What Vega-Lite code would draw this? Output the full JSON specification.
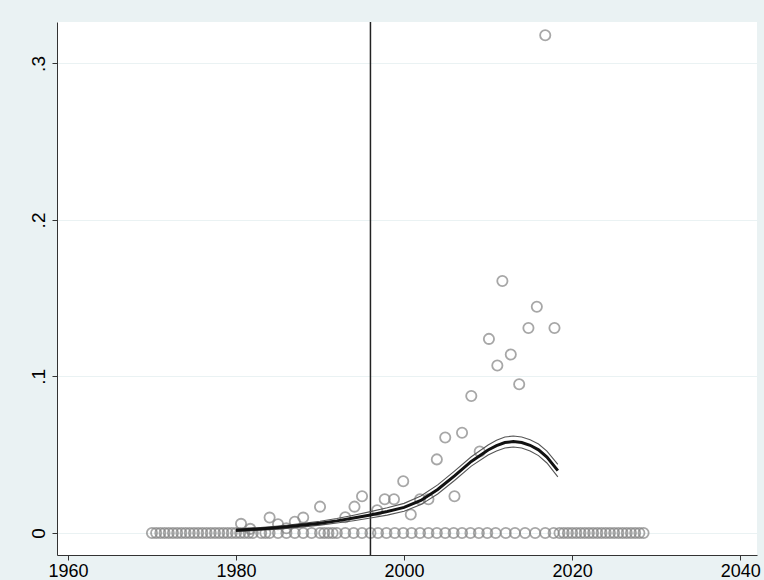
{
  "$schema": "https://vega.github.io/schema/vega-lite/v6.json",
  "autosize": {"type": "none"},
  "width": 700,
  "height": 533,
  "padding": {"left": 57, "top": 22, "right": 7, "bottom": 25},
  "background": "#eaf2f3",
  "config": {
    "view": {"fill": "white", "stroke": null},
    "font": "Liberation Sans",
    "axis": {
      "labelFont": "Liberation Sans",
      "labelFontSize": 18,
      "labelColor": "#000000",
      "domainColor": "#333333",
      "tickColor": "#333333",
      "tickSize": 5,
      "title": null
    }
  },
  "datasets": {
    "pts": [
      {"year": 1970, "share": 0}, {"year": 1970.5, "share": 0}, {"year": 1971, "share": 0}, {"year": 1971.5, "share": 0},
      {"year": 1972, "share": 0}, {"year": 1972.5, "share": 0}, {"year": 1973, "share": 0}, {"year": 1973.5, "share": 0},
      {"year": 1974, "share": 0}, {"year": 1974.5, "share": 0}, {"year": 1975, "share": 0}, {"year": 1975.5, "share": 0},
      {"year": 1976, "share": 0}, {"year": 1976.5, "share": 0}, {"year": 1977, "share": 0}, {"year": 1977.5, "share": 0},
      {"year": 1978, "share": 0}, {"year": 1978.5, "share": 0}, {"year": 1979, "share": 0}, {"year": 1979.5, "share": 0},
      {"year": 1980, "share": 0}, {"year": 1980.5, "share": 0}, {"year": 1981, "share": 0}, {"year": 1981.5, "share": 0},
      {"year": 1982, "share": 0}, {"year": 1983, "share": 0}, {"year": 1983.5, "share": 0}, {"year": 1984, "share": 0},
      {"year": 1985, "share": 0}, {"year": 1986, "share": 0}, {"year": 1987, "share": 0}, {"year": 1988, "share": 0},
      {"year": 1989, "share": 0}, {"year": 1990, "share": 0}, {"year": 1990.5, "share": 0}, {"year": 1991, "share": 0},
      {"year": 1991.5, "share": 0}, {"year": 1992, "share": 0}, {"year": 1993, "share": 0}, {"year": 1994, "share": 0},
      {"year": 1995, "share": 0}, {"year": 1996, "share": 0},
      {"year": 1996.9, "share": 0}, {"year": 1997.9, "share": 0}, {"year": 1998.9, "share": 0}, {"year": 1999.9, "share": 0},
      {"year": 2000.9, "share": 0}, {"year": 2001.9, "share": 0}, {"year": 2002.9, "share": 0}, {"year": 2003.9, "share": 0},
      {"year": 2004.9, "share": 0}, {"year": 2005.9, "share": 0}, {"year": 2006.9, "share": 0}, {"year": 2007.9, "share": 0},
      {"year": 2008.9, "share": 0}, {"year": 2009.9, "share": 0}, {"year": 2010.9, "share": 0},
      {"year": 2012.1, "share": 0}, {"year": 2013.2, "share": 0}, {"year": 2014.4, "share": 0}, {"year": 2015.6, "share": 0},
      {"year": 2016.8, "share": 0}, {"year": 2017.8, "share": 0},
      {"year": 2018.5, "share": 0}, {"year": 2019, "share": 0}, {"year": 2019.5, "share": 0}, {"year": 2020, "share": 0},
      {"year": 2020.5, "share": 0}, {"year": 2021, "share": 0}, {"year": 2021.5, "share": 0}, {"year": 2022, "share": 0},
      {"year": 2022.5, "share": 0}, {"year": 2023, "share": 0}, {"year": 2023.5, "share": 0}, {"year": 2024, "share": 0},
      {"year": 2024.5, "share": 0}, {"year": 2025, "share": 0}, {"year": 2025.5, "share": 0}, {"year": 2026, "share": 0},
      {"year": 2026.5, "share": 0}, {"year": 2027, "share": 0}, {"year": 2027.5, "share": 0}, {"year": 2028, "share": 0},
      {"year": 2028.5, "share": 0},
      {"year": 1980.6, "share": 0.0058}, {"year": 1981.7, "share": 0.0026}, {"year": 1984, "share": 0.0098},
      {"year": 1985, "share": 0.0055}, {"year": 1986, "share": 0.003}, {"year": 1987, "share": 0.0072},
      {"year": 1988, "share": 0.0098}, {"year": 1990, "share": 0.0168}, {"year": 1993, "share": 0.010},
      {"year": 1994.1, "share": 0.0168}, {"year": 1995, "share": 0.0235}, {"year": 1996.8, "share": 0.0145},
      {"year": 1997.7, "share": 0.0215}, {"year": 1998.8, "share": 0.0215}, {"year": 1999.9, "share": 0.033},
      {"year": 2000.8, "share": 0.0118}, {"year": 2001.9, "share": 0.0215}, {"year": 2002.9, "share": 0.0215},
      {"year": 2003.9, "share": 0.047}, {"year": 2004.9, "share": 0.061}, {"year": 2006, "share": 0.0235},
      {"year": 2006.9, "share": 0.064}, {"year": 2008, "share": 0.0875}, {"year": 2009, "share": 0.052},
      {"year": 2010.1, "share": 0.124}, {"year": 2011.1, "share": 0.107}, {"year": 2011.7, "share": 0.161},
      {"year": 2012.7, "share": 0.114}, {"year": 2013.7, "share": 0.095}, {"year": 2014.8, "share": 0.131},
      {"year": 2015.8, "share": 0.1445}, {"year": 2016.8, "share": 0.318}, {"year": 2017.9, "share": 0.131}
    ],
    "fit": [
      {"year": 1980, "fit": 0.0017, "lo": 0.001, "hi": 0.0024},
      {"year": 1982, "fit": 0.0023, "lo": 0.0015, "hi": 0.0031},
      {"year": 1984, "fit": 0.003, "lo": 0.0021, "hi": 0.0039},
      {"year": 1986, "fit": 0.0039, "lo": 0.0029, "hi": 0.0049},
      {"year": 1988, "fit": 0.005, "lo": 0.0039, "hi": 0.0061},
      {"year": 1990, "fit": 0.0062, "lo": 0.005, "hi": 0.0075},
      {"year": 1992, "fit": 0.0077, "lo": 0.0063, "hi": 0.0092},
      {"year": 1994, "fit": 0.0095, "lo": 0.0078, "hi": 0.0113},
      {"year": 1996, "fit": 0.0115, "lo": 0.0095, "hi": 0.0136},
      {"year": 1998, "fit": 0.0137, "lo": 0.0114, "hi": 0.0161},
      {"year": 2000, "fit": 0.0163, "lo": 0.0138, "hi": 0.0189},
      {"year": 2002, "fit": 0.0208, "lo": 0.0181, "hi": 0.0236},
      {"year": 2004, "fit": 0.0278, "lo": 0.0249, "hi": 0.0307},
      {"year": 2006, "fit": 0.0365, "lo": 0.0335, "hi": 0.0395},
      {"year": 2008, "fit": 0.0457, "lo": 0.0427, "hi": 0.0487},
      {"year": 2010, "fit": 0.053, "lo": 0.0498, "hi": 0.0562},
      {"year": 2011, "fit": 0.0558, "lo": 0.0524, "hi": 0.0592},
      {"year": 2012, "fit": 0.0578, "lo": 0.0543, "hi": 0.0613},
      {"year": 2013, "fit": 0.0584, "lo": 0.0549, "hi": 0.0619},
      {"year": 2014, "fit": 0.0578, "lo": 0.0543, "hi": 0.0613},
      {"year": 2015, "fit": 0.056, "lo": 0.0524, "hi": 0.0596},
      {"year": 2016, "fit": 0.0531, "lo": 0.0494, "hi": 0.0568},
      {"year": 2017, "fit": 0.0485, "lo": 0.0447, "hi": 0.0523},
      {"year": 2018.3, "fit": 0.0398, "lo": 0.0358, "hi": 0.0438}
    ],
    "vline": [{"year": 1996}]
  },
  "layer": [
    {
      "data": {"name": "pts"},
      "mark": {"type": "point", "shape": "circle", "filled": false, "size": 105, "strokeWidth": 1.8, "color": "#838383", "clip": true},
      "encoding": {
        "x": {
          "field": "year", "type": "quantitative",
          "scale": {"domain": [1958.7, 2042.0], "nice": false, "zero": false},
          "axis": {"values": [1960, 1980, 2000, 2020, 2040], "format": "d", "grid": false, "labelPadding": 2}
        },
        "y": {
          "field": "share", "type": "quantitative",
          "scale": {"domain": [-0.0141, 0.3265], "nice": false, "zero": false},
          "axis": {
            "values": [0, 0.1, 0.2, 0.3],
            "labelExpr": "datum.value == 0 ? '0' : replace(format(datum.value, '.1f'), '0.', '.')",
            "labelAngle": -90,
            "labelAlign": "center",
            "labelBaseline": "bottom",
            "labelPadding": 4,
            "labelFontSize": 19,
            "grid": true,
            "gridColor": "#eaf2f3",
            "gridWidth": 1.2
          }
        }
      }
    },
    {
      "data": {"name": "vline"},
      "mark": {"type": "rule", "color": "#222222", "strokeWidth": 1.5},
      "encoding": {"x": {"field": "year", "type": "quantitative"}}
    },
    {
      "data": {"name": "fit"},
      "mark": {"type": "line", "color": "#555555", "strokeWidth": 1.1},
      "encoding": {"x": {"field": "year", "type": "quantitative"}, "y": {"field": "lo", "type": "quantitative"}}
    },
    {
      "data": {"name": "fit"},
      "mark": {"type": "line", "color": "#555555", "strokeWidth": 1.1},
      "encoding": {"x": {"field": "year", "type": "quantitative"}, "y": {"field": "hi", "type": "quantitative"}}
    },
    {
      "data": {"name": "fit"},
      "mark": {"type": "line", "color": "#111111", "strokeWidth": 3},
      "encoding": {"x": {"field": "year", "type": "quantitative"}, "y": {"field": "fit", "type": "quantitative"}}
    }
  ]
}
